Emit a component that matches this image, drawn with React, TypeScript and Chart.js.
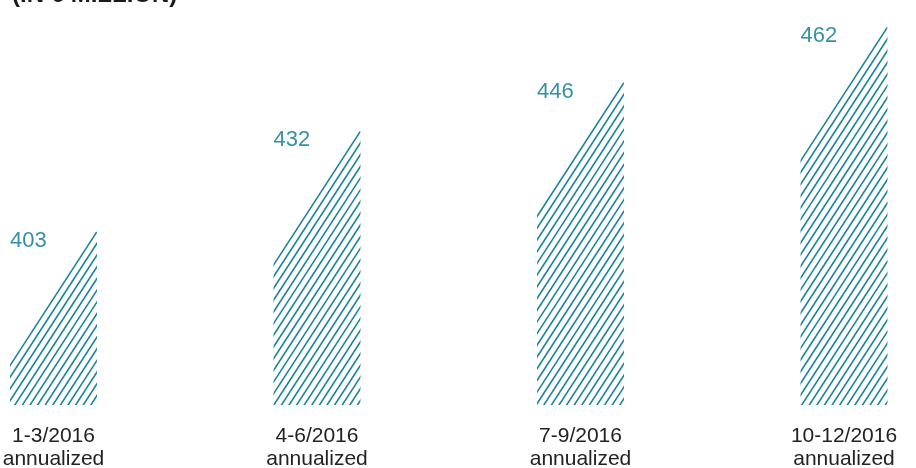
import React, { useEffect, useRef } from "react";
import { Chart, registerables } from "chart.js";

Chart.register(...registerables);

const titleText = "(IN € MILLION)";
const periods = ["1-3/2016", "4-6/2016", "7-9/2016", "10-12/2016"];
const subLabel = "annualized";
const values = [403, 432, 446, 462];

const TEAL = "#1b8499";
const LABEL_TEAL = "#3592a6";
const FONT = "'Helvetica Neue', Helvetica, Arial, 'Liberation Sans', sans-serif";

const hatchPlugin = {
  id: "hatchBars",
  afterDatasetsDraw(chart: any) {
    const ctx = chart.ctx;
    const meta = chart.getDatasetMeta(0);
    const area = chart.chartArea;
    const k = 1.54; // slope of hatch lines (dy/dx)
    const h = 7.6; // horizontal spacing of hatch lines
    meta.data.forEach((bar: any, i: number) => {
      const { x, y, base, width } = bar.getProps(["x", "y", "base", "width"], true);
      const left = x - width / 2;
      const right = x + width / 2;
      const top = Math.max(Math.min(y, base), area.top);
      const bottom = Math.min(Math.max(y, base), area.bottom);
      const H = bottom - top;
      ctx.save();
      ctx.beginPath();
      ctx.rect(left, top, width, H);
      ctx.clip();
      ctx.strokeStyle = TEAL;
      ctx.lineWidth = 1.6;
      ctx.beginPath();
      const n = Math.ceil(H / k / h) + 1;
      for (let j = 0; j <= n; j++) {
        const x0 = right + j * h;
        ctx.moveTo(x0 + 2, top - 2 * k);
        ctx.lineTo(x0 - H / k - 2, bottom + 2 * k);
      }
      ctx.stroke();
      ctx.restore();

      const v = chart.data.datasets[0].data[i].y;
      ctx.save();
      ctx.font = `22px ${FONT}`;
      ctx.fillStyle = LABEL_TEAL;
      ctx.textAlign = "left";
      ctx.textBaseline = "alphabetic";
      ctx.fillText(String(v), left, top + 15);
      ctx.restore();
    });
  },
};

export default function App() {
  const ref = useRef<HTMLCanvasElement | null>(null);
  useEffect(() => {
    if (!ref.current) return;
    const chart = new Chart(ref.current, {
      type: "bar",
      data: {
        datasets: [
          {
            data: values.map((v, i) => ({ x: i, y: v })),
            backgroundColor: "rgba(0,0,0,0)",
            borderWidth: 0,
            barPercentage: 0.33,
            categoryPercentage: 1,
          },
        ],
      },
      options: {
        responsive: false,
        animation: false,
        layout: { padding: { left: 12, right: 0, top: 0, bottom: 0 } },
        plugins: {
          legend: { display: false },
          tooltip: { enabled: false },
          title: {
            display: true,
            text: titleText,
            align: "start",
            color: "#1a1a1a",
            font: { size: 24, family: FONT, lineHeight: 1.2, weight: "bold" },
            padding: { top: -19, bottom: 0 },
          },
        },
        scales: {
          x: {
            type: "linear",
            offset: false,
            min: -0.1575,
            max: 3.2732,
            grid: { display: false, offset: false, drawTicks: false },
            border: { display: false },
            afterBuildTicks: (axis: any) => {
              axis.ticks = periods.map((_, i) => ({ value: i }));
            },
            afterFit: (axis: any) => {
              axis.height = 63;
              axis.paddingLeft = 0;
              axis.paddingRight = 0;
            },
            ticks: {
              callback: (v: any) => [periods[v], subLabel],
              color: "#222222",
              font: { size: 21, family: FONT, lineHeight: 1.12 },
              padding: 19,
              maxRotation: 0,
              autoSkip: false,
            },
          },
          y: { display: false, min: 353, max: 467 },
        },
      } as any,
      plugins: [hatchPlugin],
    });
    return () => chart.destroy();
  }, []);
  return (
    <div style={{ position: "absolute", left: 0, top: 0, width: 916, height: 468 }}>
      <canvas ref={ref} width={916} height={468} style={{ width: 916, height: 468, display: "block" }} />
    </div>
  );
}
